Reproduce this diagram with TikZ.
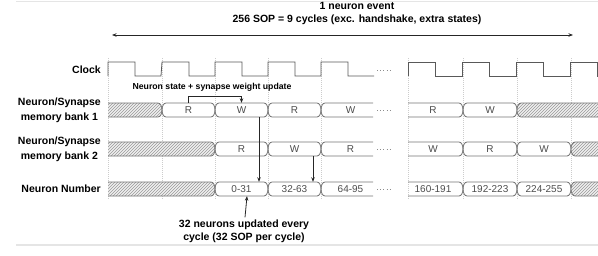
\documentclass[tikz,border=0pt]{standalone}
\usepackage{fontspec}
\setmainfont{Liberation Sans}
\usetikzlibrary{arrows.meta,patterns}

\newcommand{\cellshape}[4]{%
  \draw[#1] (#2,#4) .. controls (#2,#4-3.5) and (#2+1.5,#4-7) .. (#2+4,#4-7)
    -- (#3-4,#4-7) .. controls (#3-1.5,#4-7) and (#3,#4-3.5) .. (#3,#4)
    .. controls (#3,#4+3.5) and (#3-1.5,#4+7) .. (#3-4,#4+7)
    -- (#2+4,#4+7) .. controls (#2+1.5,#4+7) and (#2,#4+3.5) .. (#2,#4) -- cycle;}
\newcommand{\buscell}[5]{%
  \cellshape{busline}{#2}{#3}{#4}
  \node[celltext] (#1) at ({(#2+#3)/2},#4) {#5};}
\newcommand{\hatchcell}[3]{\cellshape{busline,hatched}{#1}{#2}{#3}}

\begin{document}
\begin{tikzpicture}[x=1pt,y=-1pt,>={Stealth[length=4.5pt,width=3.5pt]},
  busline/.style={draw=black!55,line width=0.8pt},
  hatched/.style={preaction={fill=black!6},pattern=north east lines,pattern color=black!40},
  celltext/.style={inner sep=0pt,minimum height=14pt,text=black!70,font=\fontsize{10}{11}\selectfont},
  rowlabel/.style={anchor=east,align=center,inner sep=0pt,font=\bfseries\fontsize{10.5}{15}\selectfont},
  wave/.style={draw=black!65,line width=0.8pt},
  cyclemark/.style={draw=black!20,line width=0.5pt,dash pattern=on 1pt off 1pt},
  gapdots/.style={draw=black!45,line width=0.8pt,dash pattern=on 0.8pt off 2.4pt},
  note/.style={align=center,inner sep=0pt,font=\bfseries\fontsize{10.5}{13}\selectfont},
  link/.style={draw=black!85,line width=0.8pt,->},
  frameline/.style={draw=black!10,line width=1.5pt}]
\useasboundingbox (0,0) rectangle (598,255);
\draw[frameline] (16,1.5) -- (598,1.5);
\draw[frameline] (16,245) -- (598,245);

\node[note,anchor=north] (evtitle) at (357,2) {1 neuron event\\256 SOP = 9 cycles (exc. handshake, extra states)};
\coordinate (evl) at (112,35);
\coordinate (evr) at (573,35);
\draw[link,<->] (evl) -- (evr);

\node[rowlabel] (lclock) at (101,70) {Clock};
\node[rowlabel] (lbank1) at (101,110) {Neuron/Synapse\\memory bank 1};
\node[rowlabel] (lbank2) at (101,149) {Neuron/Synapse\\memory bank 2};
\node[rowlabel] (lnum) at (101,189) {Neuron Number};

\foreach \x in {108,162,215,268,321,408,463,517,571}
  \draw[cyclemark] (\x,58) -- (\x,200);

\draw[wave] (108,76) \foreach \x in {108,162,215,268,321} { -- (\x,62) -- (\x+27,62) -- (\x+27,76) -- (\x+53,76)};
\draw[wave] (408,76) \foreach \x in {408,462,516,570} { -- (\x,62) -- (\x+27,62) -- (\x+27,76) -- (\x+54,76)};

\foreach \y in {70,110,149,189}
  \draw[gapdots] (377,\y) -- (392,\y);

\begin{scope}
\clip (108,95) rectangle (373,205);
\hatchcell{100}{162}{110}
\buscell{b1r1}{162}{215}{110}{R}
\buscell{b1w1}{215}{268}{110}{W}
\buscell{b1r2}{268}{321}{110}{R}
\buscell{b1w2}{321}{380}{110}{W}
\hatchcell{100}{215}{149}
\buscell{b2r1}{215}{268}{149}{R}
\buscell{b2w1}{268}{321}{149}{W}
\buscell{b2r2}{321}{380}{149}{R}
\hatchcell{100}{215}{189}
\buscell{n0}{215}{268}{189}{0-31}
\buscell{n1}{268}{321}{189}{32-63}
\buscell{n2}{321}{380}{189}{64-95}
\end{scope}

\begin{scope}
\clip (408,95) rectangle (598,205);
\buscell{b1r9}{403}{463}{110}{R}
\buscell{b1w9}{463}{517}{110}{W}
\hatchcell{517}{620}{110}
\buscell{b2w8}{403}{463}{149}{W}
\buscell{b2r9}{463}{517}{149}{R}
\buscell{b2w9}{517}{571}{149}{W}
\hatchcell{571}{620}{149}
\buscell{n5}{403}{463}{189}{160-191}
\buscell{n6}{463}{517}{189}{192-223}
\buscell{n7}{517}{571}{189}{224-255}
\hatchcell{571}{620}{189}
\end{scope}

\node[note,font=\bfseries\fontsize{8.7}{10}\selectfont] (wbnote) at (212,87) {Neuron state + synapse weight update};
\draw[link] (b1r1.north) -- ++(0,-6) -| (b1w1.north);
\draw[link] ([xshift=17.5pt]b1w1.south) -- ([xshift=17.5pt]n0.north);
\draw[link] ([xshift=18.5pt]b2w1.south) -- ([xshift=18.5pt]n1.north);

\node[note] (updnote) at (244,231) {32 neurons updated every\\cycle (32 SOP per cycle)};
\draw[link] ([xshift=1pt,yshift=2pt]updnote.north) -- ([xshift=5.5pt]n0.south);
\end{tikzpicture}
\end{document}
